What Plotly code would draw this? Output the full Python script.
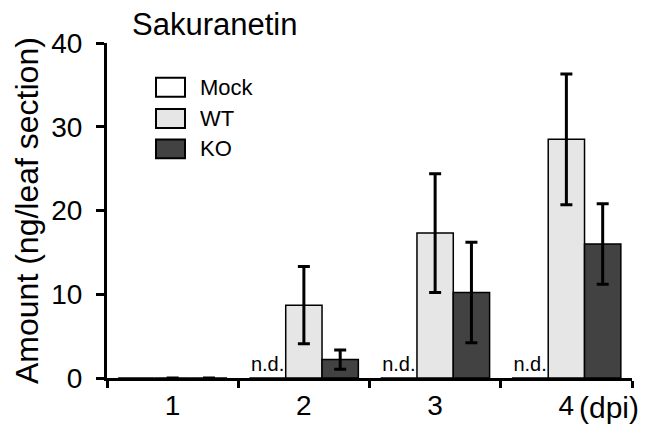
import plotly.graph_objects as go

# ---- data ----
categories = ["1", "2", "3", "4"]
mock_values = [0, 0, 0, 0]
mock_labels = ["", "n.d.", "n.d.", "n.d."]
wt_values = [0, 8.7, 17.3, 28.5]
wt_errors = [0, 4.6, 7.1, 7.8]
ko_values = [0, 2.2, 10.2, 16.0]
ko_errors = [0, 1.15, 6.0, 4.8]
y_ticks = [0, 10, 20, 30, 40]
series_names = ["Mock", "WT", "KO"]
series_colors = ["#ffffff", "#e6e6e6", "#424242"]

FONT = "Liberation Sans, Arial, Helvetica, sans-serif"

# page body has an 8px margin; lay the figure out in screenshot coordinates
OFF = 8
W, H = 655 - OFF, 433 - OFF
PLOT_L, PLOT_R, PLOT_T, PLOT_B = 107, 632, 43, 380  # screenshot px
L, R, T, B = PLOT_L - OFF, W - (PLOT_R - OFF), PLOT_T - OFF, H - (PLOT_B - OFF)
pw, ph = W - L - R, H - T - B


def px_x(x):
    return (x - PLOT_L) / pw


def px_y(y):
    return (PLOT_B - y) / ph


fig = go.Figure()

err_style = dict(type="data", color="black", thickness=3, width=6, visible=True)

fig.add_trace(go.Bar(
    name=series_names[0], x=categories, y=mock_values,
    marker=dict(color=series_colors[0], line=dict(color="black", width=1.5)),
    text=mock_labels, textposition="outside", constraintext="none",
    textfont=dict(family=FONT, size=20, color="black"),
    cliponaxis=False,
))
fig.add_trace(go.Bar(
    name=series_names[1], x=categories, y=wt_values,
    marker=dict(color=series_colors[1], line=dict(color="black", width=1.5)),
    error_y=dict(array=wt_errors, **err_style),
))
fig.add_trace(go.Bar(
    name=series_names[2], x=categories, y=ko_values,
    marker=dict(color=series_colors[2], line=dict(color="black", width=1.5)),
    error_y=dict(array=ko_errors, **err_style),
))

annotations = []
shapes = []

# title
annotations.append(dict(
    text="Sakuranetin", xref="paper", yref="paper",
    x=px_x(130), y=px_y(24), xanchor="left", yanchor="middle",
    showarrow=False, font=dict(family=FONT, size=31, color="black"),
))
# y axis title
annotations.append(dict(
    text="Amount (ng/leaf section)", xref="paper", yref="paper",
    x=px_x(27), y=px_y(212), xanchor="center", yanchor="middle", textangle=-90,
    showarrow=False, font=dict(family=FONT, size=32, color="black"),
))
# "(dpi)" suffix after last category label
annotations.append(dict(
    text="(dpi)", xref="paper", yref="paper",
    x=px_x(577), y=px_y(410), xanchor="left", yanchor="middle",
    showarrow=False, font=dict(family=FONT, size=30, color="black"),
))

# manual legend
legend_rows = [(87.5, 0), (119, 1), (149.5, 2)]
for cy, i in legend_rows:
    shapes.append(dict(
        type="rect", xref="paper", yref="paper",
        x0=px_x(156), x1=px_x(185), y0=px_y(cy + 9.5), y1=px_y(cy - 9.5),
        fillcolor=series_colors[i], line=dict(color="black", width=2),
    ))
    annotations.append(dict(
        text=series_names[i], xref="paper", yref="paper",
        x=px_x(198), y=px_y(cy), xanchor="left", yanchor="middle",
        showarrow=False, font=dict(family=FONT, size=22, color="black"),
    ))

fig.update_layout(
    width=W, height=H,
    margin=dict(l=L, r=R, t=T, b=B, pad=0),
    paper_bgcolor="white", plot_bgcolor="white",
    barmode="group", bargap=0.17, bargroupgap=0,
    showlegend=False,
    font=dict(family=FONT, color="black"),
    annotations=annotations, shapes=shapes,
    xaxis=dict(
        type="category", categoryorder="array", categoryarray=categories,
        tickson="boundaries", ticks="outside", ticklen=7, tickwidth=3,
        tickcolor="black", showline=True, linecolor="black", linewidth=3,
        showgrid=False, zeroline=False,
        tickfont=dict(family=FONT, size=28, color="black"),
    ),
    yaxis=dict(
        range=[0, 40], tickvals=y_ticks, ticks="outside", ticklen=8,
        tickwidth=3, tickcolor="black", showline=True, linecolor="black",
        linewidth=3, showgrid=False, zeroline=False, ticklabelstandoff=8,
        tickfont=dict(family=FONT, size=28, color="black"),
    ),
)

fig.write_html("out.html")
